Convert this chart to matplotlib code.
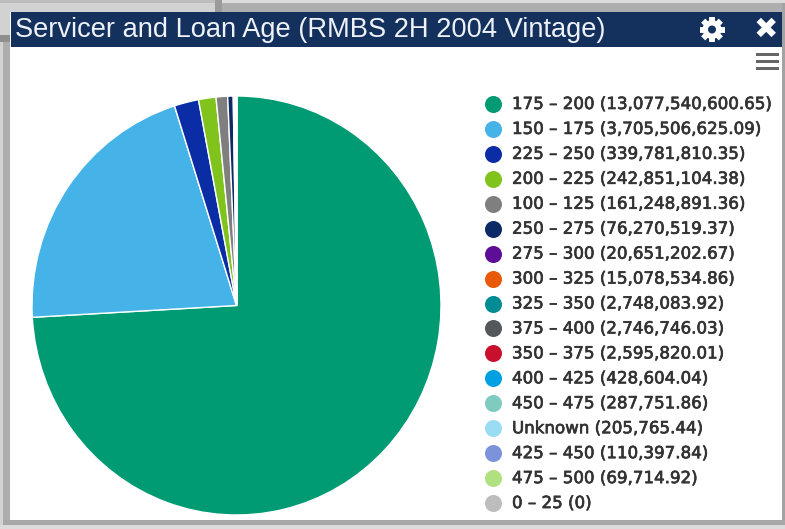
import matplotlib
matplotlib.use("Agg")
import matplotlib.pyplot as plt
import matplotlib.patheffects as pe
import numpy as np
from matplotlib.patches import Rectangle, Ellipse

W, H = 785, 529

buckets = ["175 – 200", "150 – 175", "225 – 250", "200 – 225", "100 – 125", "250 – 275",
           "275 – 300", "300 – 325", "325 – 350", "375 – 400", "350 – 375", "400 – 425",
           "450 – 475", "Unknown", "425 – 450", "475 – 500", "0 – 25"]
balances = [13077540600.65, 3705506625.09, 339781810.35, 242851104.38, 161248891.36, 76270519.37,
            20651202.67, 15078534.86, 2748083.92, 2746746.03, 2595820.01, 428604.04,
            287751.86, 205765.44, 110397.84, 69714.92, 0]
colors = ["#009a73", "#45b2e8", "#0a2da5", "#7fc31c", "#7f7f7f", "#0b2a66",
          "#5e0d96", "#e85a0a", "#008c95", "#54585a", "#c8102e", "#00a0e3",
          "#7fcbbf", "#9bdcf5", "#7c93dc", "#b0e07f", "#bdbdbd"]

NAVY = "#13315c"


def fmt_balance(v):
    if v == 0:
        return "0"
    return f"{v:,.2f}"


def draw_gear(ax, x, y):
    for a in np.arange(0, 180, 45):
        dx, dy = 12.5 * np.cos(np.radians(a)), 12.5 * np.sin(np.radians(a))
        ax.plot([x - dx, x + dx], [y - dy, y + dy], color="white", lw=4.2, solid_capstyle="butt")
    ax.add_patch(Ellipse((x, y), 19, 19, color="white", lw=0))
    ax.add_patch(Ellipse((x, y), 8, 8, color=NAVY, lw=0, zorder=5))


fig = plt.figure(figsize=(W / 100, H / 100), dpi=100, facecolor="#d2d2d2")

# panel, title bar and window edges, in pixel coordinates
bg = fig.add_axes([0, 0, 1, 1])
bg.set_xlim(0, W)
bg.set_ylim(H, 0)
bg.axis("off")
bg.add_patch(Rectangle((0, 0), 217, 3, color="#bdbdbd", lw=0))
bg.add_patch(Rectangle((217, 0), W - 217, 3, color="#dcdcdc", lw=0))
bg.add_patch(Rectangle((222, 3), W - 222, 9, color="#aeaeae", lw=0))
bg.add_patch(Rectangle((215, 0), 7, 12, color="#9a9a9a", lw=0))
bg.add_patch(Rectangle((3, 42), 7, 487, color="#adadad", lw=0))
bg.add_patch(Rectangle((0, 35), 10, 7, color="#8f8f8f", lw=0))
bg.add_patch(Rectangle((782, 3), 3, 522, color="#a3a3a3", lw=0))
bg.add_patch(Rectangle((3, 520), W - 3, 5, color="#a8a8a8", lw=0))
bg.add_patch(Rectangle((0, 525), W, 4, color="#dcdcdc", lw=0))
bg.add_patch(Rectangle((10, 12), 772, 508, color="white", lw=0))
bg.add_patch(Rectangle((11, 12), 771, 35, color=NAVY, lw=0))
bg.text(15, 30, "Servicer and Loan Age (RMBS 2H 2004 Vintage)", color="#eef2f8",
        fontsize=19.6, family="Liberation Sans", va="center", ha="left")
draw_gear(bg, 712, 29.5)
bg.text(766, 30, "\u2716", color="white", fontsize=21, family="DejaVu Sans", va="center", ha="center")
for y in [52.5, 59.5, 66.5]:
    bg.add_patch(Rectangle((756, y), 23, 3.5, color="#666666", lw=0))

# legend, one row per bucket; thin stroke thickens the labels a little
for i, (name, val, c) in enumerate(zip(buckets, balances, colors)):
    y = 104 + i * 24.94
    bg.scatter([493], [y], s=150, color=c, lw=0)
    bg.text(512, y, f"{name} ({fmt_balance(val)})", fontsize=12.0, family="DejaVu Sans",
            color="#333333", va="center", ha="left",
            path_effects=[pe.withStroke(linewidth=0.5, foreground="#333333")])

# pie starts at twelve o'clock and runs clockwise, slightly narrower than tall
cx, cy, rx, ry = 236.5, 305.5, 204.5, 209.5
ax = fig.add_axes([(cx - rx) / W, 1 - (cy + ry) / H, 2 * rx / W, 2 * ry / H])
ax.pie(balances, colors=colors, startangle=90, counterclock=False,
       wedgeprops={"edgecolor": "white", "linewidth": 1.0})
ax.set_aspect("auto")
ax.set_xlim(-1, 1)
ax.set_ylim(-1, 1)
ax.patch.set_alpha(0)
for w in ax.patches:
    w.set_clip_on(False)

fig.savefig("out.png", dpi=100, facecolor=fig.get_facecolor())
